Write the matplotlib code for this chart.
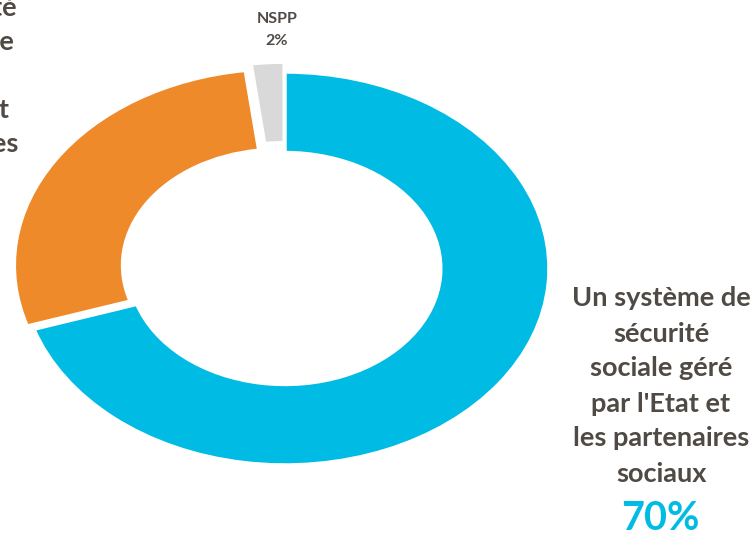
import matplotlib
matplotlib.use("Agg")
import matplotlib.pyplot as plt

# Data
categories = [
    "Un système de\nsécurité\nsociale géré\npar l'Etat et\nles partenaires\nsociaux",
    "Un système de sécurité\nsociale en concurrence\navec\nles assureurs privés et\nles sociétés mutualistes",
    "NSPP",
]
values = [70, 28, 2]
pct_labels = ["70%", "28%", "2%"]
colors = ["#00BBE4", "#EF8A2A", "#D9D9D9"]
text_color = "#504A45"

W, H, DPI = 754, 535, 100
fig = plt.figure(figsize=(W / DPI, H / DPI), dpi=DPI)
ax = fig.add_axes([0, 0, 1, 1])

ax.pie(values, colors=colors, startangle=90, counterclock=False,
       explode=[0, 0.03, 0.05], radius=1,
       wedgeprops=dict(width=0.41, edgecolor="white", linewidth=2.5))
ax.set_aspect("auto")
cx, cy, rx, ry = 285, 268.5, 264, 196.5
ax.set_xlim(-cx / rx, (W - cx) / rx)
ax.set_ylim(-(H - cy) / ry, cy / ry)
ax.axis("off")

def fx(px):
    return px / W

def fy(py):
    return 1 - py / H

font = "Lato"
fs = 19.5
# Right label (blue)
fig.text(fx(661), fy(386), categories[0], ha="center", va="center",
         multialignment="center", fontsize=fs, fontweight="bold",
         color=text_color, family=font, linespacing=1.55)
fig.text(fx(660), fy(518), pct_labels[0], ha="center", va="center",
         fontsize=28.5, fontweight="bold", color=colors[0], family=font)

# Left label (orange, partly off canvas)
fig.text(fx(-124), fy(76), categories[1], ha="center", va="center",
         multialignment="center", fontsize=fs, fontweight="bold",
         color=text_color, family=font, linespacing=1.5)
fig.text(fx(-124), fy(200), pct_labels[1], ha="center", va="center",
         fontsize=28.5, fontweight="bold", color=colors[1], family=font)

# NSPP label
fig.text(fx(277), fy(30), categories[2] + "\n" + pct_labels[2], ha="center",
         va="center", multialignment="center", fontsize=11.5, fontweight="bold",
         color=text_color, family=font, linespacing=1.75)

fig.savefig("out.png", dpi=DPI)
